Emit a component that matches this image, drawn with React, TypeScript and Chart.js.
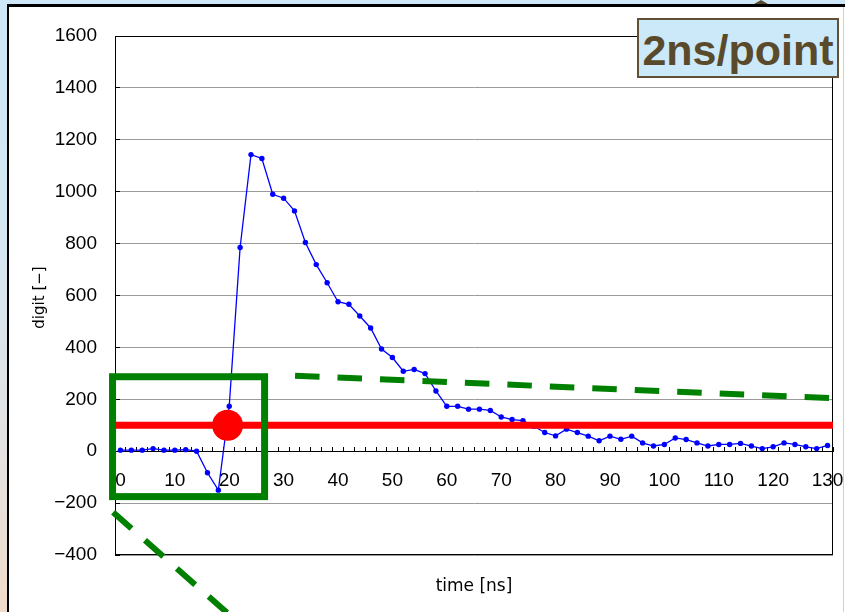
import React, { useEffect, useRef } from "react";
import { Chart, registerables } from "chart.js";

Chart.register(...registerables);

// ---- data ----
const timeLabels: number[] = [
  0, 2, 4, 6, 8, 10, 12, 14, 16, 18, 20, 22, 24, 26, 28, 30, 32, 34, 36, 38,
  40, 42, 44, 46, 48, 50, 52, 54, 56, 58, 60, 62, 64, 66, 68, 70, 72, 74, 76, 78,
  80, 82, 84, 86, 88, 90, 92, 94, 96, 98, 100, 102, 104, 106, 108, 110, 112, 114, 116, 118,
  120, 122, 124, 126, 128, 130,
];

const signalValues: number[] = [
  4, 4, 4, 10, 4, 4, 6, 0, -83, -150,
  173, 785, 1143, 1128, 990, 975, 926, 804, 719, 649,
  576, 566, 521, 475, 394, 361, 308, 315, 299, 232,
  173, 173, 162, 162, 157, 132, 122, 118, 96, 72,
  59, 85, 72, 58, 40, 58, 46, 58, 32, 20,
  26, 51, 45, 32, 20, 26, 26, 30, 20, 10,
  17, 32, 26, 17, 10, 22,
];

const yTicks = { min: -400, max: 1600, step: 200 };
const thresholdValue = 100;
// marker point [time ns, digit]
const markerPoint = [19.7, 100];
// annotation box: [tStart, tEnd, vTop, vBottom]
const greenBox = [-1.45, 26.5, 287, -175];
// dashed guide lines: [t0, v0, t1, v1]
const dashLineA = [32.1, 291, 131.0, 204];
const dashLineB = [-1.35, -235, 22.0, -667];

const xTitle = "time [ns]";
const yTitle = "digit [−]";
const rateLabel = "2ns/point";

const nsPerPoint = timeLabels[1] - timeLabels[0];

const overlayPlugin = {
  id: "overlay",
  beforeDatasetsDraw(chart: any) {
    const { ctx, chartArea: a } = chart;
    ctx.save();
    ctx.strokeStyle = "#000";
    ctx.lineWidth = 1;
    ctx.strokeRect(a.left + 0.5, a.top + 0.5, a.right - a.left - 1, a.bottom - a.top - 1);
    ctx.restore();
  },
  afterDatasetsDraw(chart: any) {
    const { ctx, chartArea: a, scales } = chart;
    const xs = scales.x;
    const ys = scales.y;
    const px = (t: number) => xs.getPixelForValue(t / nsPerPoint);
    ctx.save();
    // threshold line
    const yT = ys.getPixelForValue(thresholdValue);
    ctx.strokeStyle = "#ff0000";
    ctx.lineWidth = 7;
    ctx.beginPath();
    ctx.moveTo(a.left, yT);
    ctx.lineTo(a.right, yT);
    ctx.stroke();
    // marker
    ctx.fillStyle = "#ff0000";
    ctx.beginPath();
    ctx.arc(px(markerPoint[0]), ys.getPixelForValue(markerPoint[1]), 15.5, 0, Math.PI * 2);
    ctx.fill();
    ctx.restore();
  },
  afterDraw(chart: any) {
    const { ctx, scales } = chart;
    const xs = scales.x;
    const ys = scales.y;
    const px = (t: number) => xs.getPixelForValue(t / nsPerPoint);
    const py = (v: number) => ys.getPixelForValue(v);
    ctx.save();
    ctx.strokeStyle = "#008000";
    // box
    ctx.lineWidth = 7;
    const bx0 = px(greenBox[0]);
    const bx1 = px(greenBox[1]);
    const by0 = py(greenBox[2]);
    const by1 = py(greenBox[3]);
    ctx.strokeRect(bx0, by0, bx1 - bx0, by1 - by0);
    // dashed lines
    ctx.lineWidth = 6;
    ctx.lineCap = "butt";
    ctx.setLineDash([24.5, 18]);
    for (const l of [dashLineA, dashLineB]) {
      ctx.beginPath();
      ctx.moveTo(px(l[0]), py(l[1]));
      ctx.lineTo(px(l[2]), py(l[3]));
      ctx.stroke();
    }
    ctx.setLineDash([]);
    // axis titles
    ctx.fillStyle = "#000";
    ctx.textAlign = "center";
    ctx.textBaseline = "middle";
    ctx.font = "17px 'DejaVu Sans'";
    const a = chart.chartArea;
    ctx.fillText(xTitle, (a.left + a.right) / 2, 587);
    ctx.translate(40, (a.top + a.bottom) / 2 + 2);
    ctx.rotate(-Math.PI / 2);
    ctx.font = "15px 'DejaVu Sans'";
    ctx.fillText(yTitle, 0, 0);
    ctx.restore();
  },
};

export default function App() {
  const ref = useRef<HTMLCanvasElement | null>(null);

  useEffect(() => {
    if (!ref.current) return;
    const tickFont = { family: "'Liberation Sans', Arial, sans-serif", size: 19 };
    const chart = new Chart(ref.current, {
      type: "line",
      data: {
        labels: timeLabels.map(String),
        datasets: [
          {
            data: signalValues,
            borderColor: "#0000ff",
            backgroundColor: "#0000ff",
            borderWidth: 1.3,
            pointRadius: 2.7,
            pointBorderWidth: 0,
            pointBackgroundColor: "#0000ff",
            tension: 0,
          },
        ],
      },
      options: {
        responsive: false,
        animation: false,
        events: [],
        layout: { padding: { left: 10, top: 36, right: 12, bottom: 57 } },
        plugins: { legend: { display: false }, tooltip: { enabled: false } },
        scales: {
          x: {
            type: "category",
            position: { y: 0 } as any,
            offset: true,
            afterFit: (scale: any) => {
              scale.paddingLeft = 0;
              scale.paddingRight = 0;
            },
            grid: {
              display: true,
              drawOnChartArea: false,
              drawTicks: true,
              tickLength: -5,
              tickColor: "#000",
              offset: true,
            },
            border: { display: true, color: "#000", width: 1 },
            ticks: {
              autoSkip: false,
              maxRotation: 0,
              minRotation: 0,
              padding: 23,
              color: "#000",
              font: tickFont,
              callback: (_v: any, i: number) => (timeLabels[i] % 10 === 0 ? String(timeLabels[i]) : ""),
            },
          },
          y: {
            min: yTicks.min,
            max: yTicks.max,
            afterFit: (scale: any) => {
              scale.width = 105;
              scale.paddingTop = 0;
              scale.paddingBottom = 0;
            },
            grid: {
              color: "#9a9a9a",
              lineWidth: 1,
              drawTicks: true,
              tickLength: -5,
              tickColor: "#000",
            },
            border: { display: true, color: "#000", width: 1 },
            ticks: {
              stepSize: yTicks.step,
              padding: 23,
              color: "#000",
              font: tickFont,
              callback: (v: any) => String(v).replace("-", "\u2212"),
            },
          },
        },
      },
      plugins: [overlayPlugin],
    } as any);
    return () => chart.destroy();
  }, []);

  return (
    <div
      style={{
        position: "fixed",
        left: 0,
        top: 0,
        width: 845,
        height: 612,
        overflow: "hidden",
        background: "linear-gradient(to bottom, #cde7f8 0%, #d5e6f1 40%, #e4e1e0 75%, #f0dbc9 100%)",
      }}
    >
      <div
        style={{
          position: "absolute",
          left: 7,
          top: 4,
          width: 860,
          height: 640,
          background: "#fff",
          borderLeft: "2px solid #000",
          borderTop: "3px solid #000",
        }}
      />
      <div style={{ position: "absolute", left: 843, top: 7, width: 1, height: 605, background: "#d0d0d0" }} />
      <div
        style={{
          position: "absolute",
          left: 754,
          top: 0,
          width: 0,
          height: 0,
          borderLeft: "7px solid transparent",
          borderRight: "7px solid transparent",
          borderBottom: "4px solid #5a4a2c",
        }}
      />
      <canvas ref={ref} width={845} height={612} style={{ position: "absolute", left: 0, top: 0 }} />
      <div
        style={{
          position: "absolute",
          left: 637,
          top: 18,
          width: 198,
          height: 56,
          background: "#cce9fa",
          border: "2px solid #5f5036",
          color: "#5a4a2c",
          fontFamily: "'Liberation Sans', Arial, sans-serif",
          fontWeight: "bold",
          fontSize: 43,
          lineHeight: "56px",
          textAlign: "center",
          whiteSpace: "nowrap",
        }}
      >
        <span style={{ position: "relative", top: 2 }}>{rateLabel}</span>
      </div>
    </div>
  );
}
